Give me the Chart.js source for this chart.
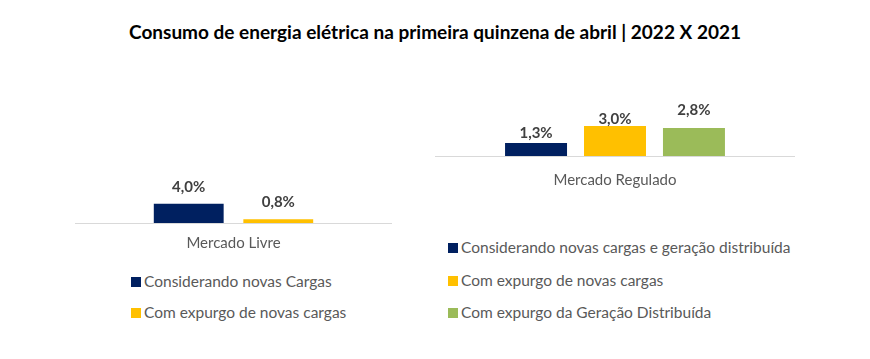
<!DOCTYPE html>
<html><head><meta charset="utf-8">
<script src="https://cdn.jsdelivr.net/npm/chart.js@4.4.1/dist/chart.umd.min.js"></script>
<style>
html,body{margin:0;padding:0;background:#fff;width:870px;height:359px;overflow:hidden;font-family:Lato,"Open Sans",sans-serif;}
#title{position:absolute;left:0;top:20px;width:870px;text-align:center;font-weight:bold;font-size:19px;color:#000;}
.cv{position:absolute;}
.legend{position:absolute;color:#595959;font-size:15.5px;}
.legend .it{position:absolute;white-space:nowrap;line-height:18px;}
.legend .sw{display:inline-block;width:10px;height:10px;margin-right:3px;vertical-align:0px;}
</style></head>
<body>
<div id="title">Consumo de energia elétrica na primeira quinzena de abril | 2022 X 2021</div>
<canvas id="c1" class="cv" width="317" height="120" style="left:75px;top:135px"></canvas>
<canvas id="c2" class="cv" width="360" height="120" style="left:435px;top:76px"></canvas>
<div id="lg1" class="legend" style="left:131px;top:272px"></div>
<div id="lg2" class="legend" style="left:448px;top:238px"></div>
<script>
const chartTitle = 'Consumo de energia elétrica na primeira quinzena de abril | 2022 X 2021';
const livreCategories = ['Mercado Livre'];
const livreSeries = ['Considerando novas Cargas', 'Com expurgo de novas cargas'];
const livreValues = [4.0, 0.8];
const reguladoCategories = ['Mercado Regulado'];
const reguladoSeries = ['Considerando novas cargas e geração distribuída', 'Com expurgo de novas cargas', 'Com expurgo da Geração Distribuída'];
const reguladoValues = [1.3, 3.0, 2.8];

const colors = ['#002060', '#FFC000', '#9BBB59'];
const FONT = 'Lato, "Open Sans", sans-serif';

function fmt(v){ return v.toFixed(1).replace('.', ',') + '%'; }

const labelPlugin = {
  id: 'barLabels',
  afterDatasetsDraw(chart, args, opts) {
    const ctx = chart.ctx;
    ctx.save();
    ctx.font = 'bold 15px ' + FONT;
    ctx.fillStyle = '#404040';
    ctx.textAlign = 'center';
    ctx.textBaseline = 'middle';
    chart.data.datasets.forEach((ds, i) => {
      const meta = chart.getDatasetMeta(i);
      meta.data.forEach((el, j) => {
        const off = (opts.offsets && opts.offsets[i] != null) ? opts.offsets[i] : 14;
        ctx.fillText(fmt(ds.data[j]), el.x, el.y - off);
      });
    });
    ctx.restore();
  }
};

function makeChart(id, cats, series, vals, maxY, catPct, barPct, offsets, tickPad) {
  return new Chart(document.getElementById(id), {
    type: 'bar',
    data: {
      labels: cats,
      datasets: series.map((s, i) => ({
        label: s, data: [vals[i]], backgroundColor: colors[i],
        categoryPercentage: catPct, barPercentage: barPct
      }))
    },
    options: {
      responsive: false, animation: false,
      layout: { padding: 0 },
      plugins: { legend: { display: false }, tooltip: { enabled: false }, barLabels: { offsets } },
      scales: {
        x: {
          grid: { display: false },
          border: { display: true, color: '#D9D9D9', width: 1 },
          ticks: { color: '#595959', font: { family: FONT, size: 15 }, padding: tickPad }
        },
        y: { display: false, min: 0, max: maxY }
      }
    },
    plugins: [labelPlugin]
  });
}

makeChart('c1', livreCategories, livreSeries, livreValues, 18.3, 0.565, 0.78, [17, 17], 3);
makeChart('c2', reguladoCategories, reguladoSeries, reguladoValues, 8.0, 0.658, 0.785, [10, 7, 18], 7);

function legend(id, series, rows) {
  const el = document.getElementById(id);
  series.forEach((s, i) => {
    const d = document.createElement('div');
    d.className = 'it';
    d.style.top = rows[i] + 'px';
    const sw = document.createElement('span');
    sw.className = 'sw'; sw.style.background = colors[i];
    d.appendChild(sw);
    d.appendChild(document.createTextNode(s));
    el.appendChild(d);
  });
}
legend('lg1', livreSeries, [0, 31]);
legend('lg2', reguladoSeries, [0, 33, 65]);
</script>
</body></html>
